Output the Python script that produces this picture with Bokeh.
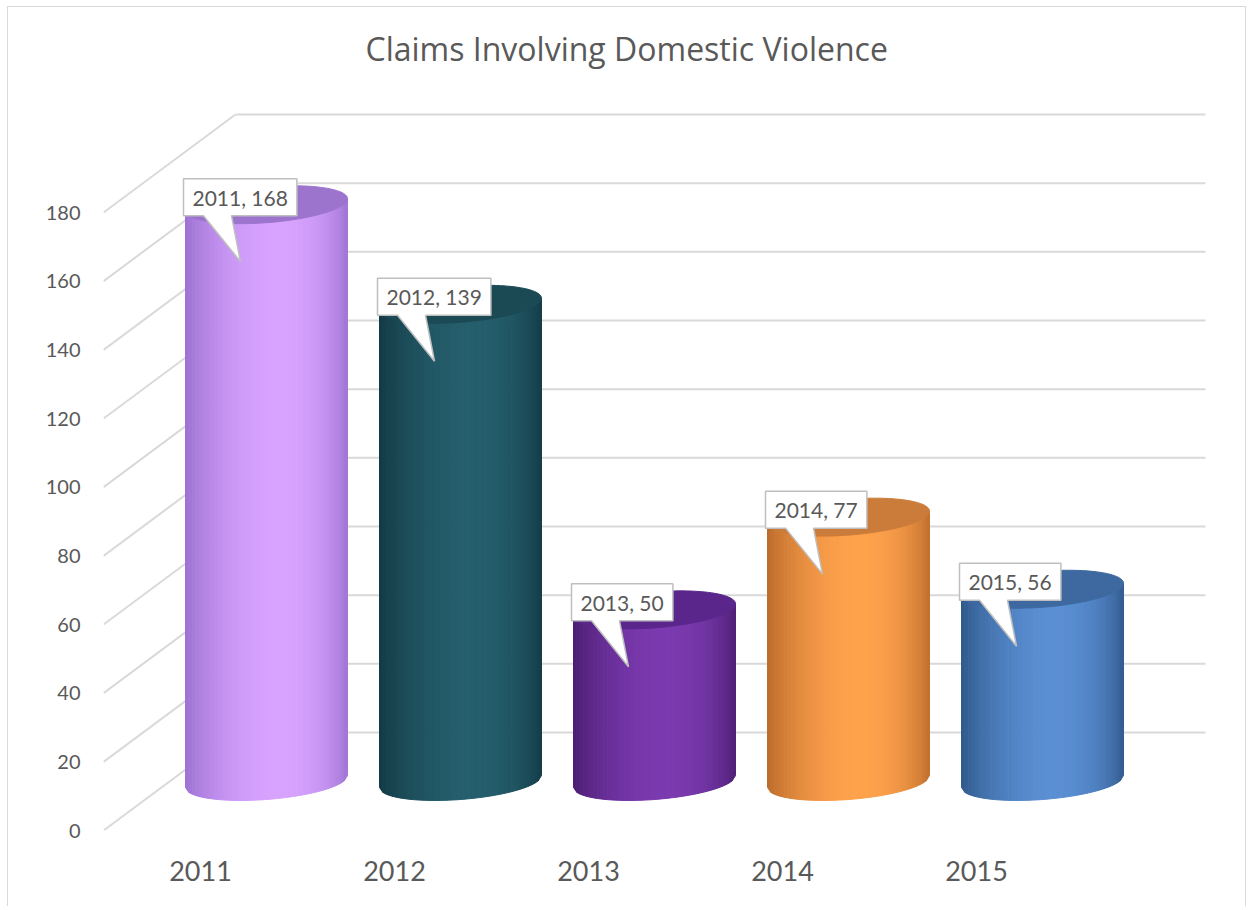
import numpy as np
from bokeh.plotting import figure
from bokeh.models import Range1d, FixedTicker, Title
from bokeh.core.properties import value
from bokeh.embed import file_html
from bokeh.resources import INLINE

# ---------------- data ----------------
title_text = "Claims Involving Domestic Violence"
years = ["2011", "2012", "2013", "2014", "2015"]
claims = [168, 139, 50, 77, 56]
y_ticks = [0, 20, 40, 60, 80, 100, 120, 140, 160, 180]

# ---------------- styles ----------------
edge_colors = ["#9a6fd0", "#123843", "#4a1c70", "#b8692a", "#2e5688"]
mid_colors = ["#d8a3ff", "#255e6c", "#7b3ab0", "#ffa24c", "#5a8fd3"]
top_colors = ["#9c74cd", "#1b4954", "#5a268c", "#cc7c3a", "#3d69a0"]
TEXT_COLOR = "#595959"
GRID_COLOR = "#d9d9d9"
FONT = "Lato"

# ---------------- layout (screen pixels) ----------------
OX, OY = 8, 7           # page position of the figure content
W, H = 1239, 900
PX_X = 194.0            # px per category unit
PX_Y = 618.0 / 180.0    # px per value unit
FRAME_L, FRAME_R, FRAME_T, FRAME_B = 103, OX + W, 85, 830   # page pixels
DEPTH_X = 132.0 / PX_X
DEPTH_Y = 98.0 / PX_Y
RAD_X = 81.0 / PX_X
RAD_Y = 18.0 / PX_Y
SKEW = 6.0 / PX_Y

p = figure(width=W, height=H, output_backend="svg", toolbar_location=None,
           x_range=Range1d(0, (FRAME_R - FRAME_L) / PX_X),
           y_range=Range1d(0, (FRAME_B - FRAME_T) / PX_Y),
           min_border_left=FRAME_L - OX, min_border_right=0,
           min_border_top=FRAME_T - OY, min_border_bottom=OY + H - FRAME_B)
p.margin = (6, 0, 0, 7)
p.styles = {"border-top": "1px solid #d9d9d9", "border-left": "1px solid #d9d9d9",
            "border-right": "1px solid #d9d9d9"}
p.outline_line_color = None
p.xgrid.visible = False
p.ygrid.visible = False
p.background_fill_color = "white"
p.border_fill_color = "white"

p.title = Title(text=title_text, align="left", offset=262, text_font="Open Sans",
                text_font_size="32px", text_font_style="normal",
                text_color=TEXT_COLOR, standoff=32)

# y axis (front plane)
ya = p.yaxis[0]
ya.ticker = FixedTicker(ticks=y_ticks)
ya.axis_line_color = None
ya.major_tick_line_color = None
ya.minor_tick_line_color = None
ya.major_tick_out = 0
ya.major_tick_in = 0
ya.major_label_standoff = 23
ya.major_label_text_font = FONT
ya.major_label_text_font_size = "20px"
ya.major_label_text_color = TEXT_COLOR

# x axis (category labels on front plane)
xa = p.xaxis[0]
cat_pos = [i + 0.5 for i in range(len(years))]
xa.ticker = FixedTicker(ticks=cat_pos)
xa.major_label_overrides = {pos: y for pos, y in zip(cat_pos, years)}
xa.axis_line_color = None
xa.major_tick_line_color = None
xa.minor_tick_line_color = None
xa.major_tick_out = 0
xa.major_tick_in = 0
xa.major_label_standoff = 30
xa.major_label_text_font = FONT
xa.major_label_text_font_size = "27px"
xa.major_label_text_color = TEXT_COLOR

# ---------------- walls / gridlines ----------------
n = len(years)
p.segment(x0=[DEPTH_X] * len(y_ticks), y0=[v + DEPTH_Y for v in y_ticks],
          x1=[n + DEPTH_X] * len(y_ticks), y1=[v + DEPTH_Y for v in y_ticks],
          line_color=GRID_COLOR, line_width=2)
p.segment(x0=[0] * len(y_ticks), y0=y_ticks,
          x1=[DEPTH_X] * len(y_ticks), y1=[v + DEPTH_Y for v in y_ticks],
          line_color=GRID_COLOR, line_width=2)


def hex2rgb(h):
    h = h.lstrip("#")
    return np.array([int(h[k:k + 2], 16) for k in (0, 2, 4)], dtype=float)


def rgb2hex(c):
    c = np.clip(np.round(c), 0, 255).astype(int)
    return "#%02x%02x%02x" % tuple(c)


# ---------------- cylinders ----------------
NS = 48
us = np.linspace(-1, 1, NS + 1)
warp = np.log(0.5) / np.log(0.57)

for i, v in enumerate(claims):
    cx = i + 0.5 + DEPTH_X / 2
    base = DEPTH_Y / 2
    top = v + DEPTH_Y / 2
    ce, cm = hex2rgb(edge_colors[i]), hex2rgb(mid_colors[i])
    xs_l, ys_l, cols = [], [], []
    for j in range(NS):
        u0, u1 = us[j], us[j + 1]
        lo0 = base - RAD_Y * np.sqrt(max(0.0, 1 - u0 ** 2)) + SKEW * u0
        lo1 = base - RAD_Y * np.sqrt(max(0.0, 1 - u1 ** 2)) + SKEW * u1
        xs_l.append([cx + RAD_X * u0, cx + RAD_X * u1, cx + RAD_X * u1, cx + RAD_X * u0])
        ys_l.append([top + SKEW * u0, top + SKEW * u1, lo1, lo0])
        w = ((u0 + u1) / 2 + 1) / 2
        g = np.sin(np.pi * w ** warp) ** 0.6
        cols.append(rgb2hex(ce + (cm - ce) * g))
    p.patches(xs=xs_l, ys=ys_l, fill_color=cols, line_color=cols, line_width=1)
    t = np.linspace(0, 2 * np.pi, 120)
    p.patch(x=cx + RAD_X * np.cos(t), y=top + RAD_Y * np.sin(t) + SKEW * np.cos(t),
            fill_color=top_colors[i], line_color=top_colors[i], line_width=1)

# ---------------- callouts ----------------
for i, v in enumerate(claims):
    label = f"{years[i]}, {v}"
    cx = i + 0.5 + DEPTH_X / 2
    top = v + DEPTH_Y / 2
    ndig = sum(ch.isdigit() for ch in label)
    box_w = (12.0 * ndig + 4.7 * (len(label) - ndig) + 20) / PX_X
    L = cx - 83 / PX_X
    R = L + box_w
    T = top + 26 / PX_Y
    B = T - 37 / PX_Y
    tip_x = L + 57 / PX_X
    tip_y = top - 57 / PX_Y
    p.patch(x=[L, R, R, L + 48 / PX_X, tip_x, L + 20 / PX_X, L],
            y=[T, T, B, B, tip_y, B, B],
            fill_color="white", line_color="#bfbfbf", line_width=1.5)
    p.text(x=[L + 9 / PX_X], y=[(T + B) / 2], text=[label],
           text_font=value(FONT), text_font_size="21px", text_color=TEXT_COLOR,
           text_align="left", text_baseline="middle")

open("out.html", "w").write(file_html(p, INLINE))
